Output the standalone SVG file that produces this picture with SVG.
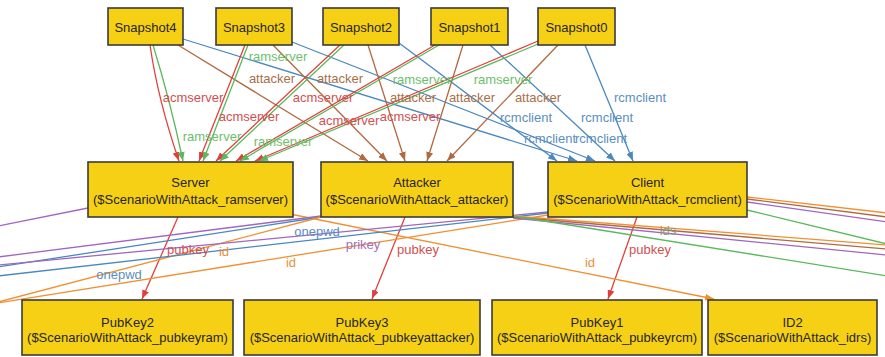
<svg xmlns="http://www.w3.org/2000/svg" width="885" height="357" viewBox="0 0 885 357">
<style>
.n rect{fill:#f6d015;stroke:#3a3a3a;stroke-width:1.6}
.n text{font-family:"Liberation Sans",Arial,sans-serif;font-size:13px;fill:#262626;text-anchor:middle}
.e{fill:none;stroke-width:1.3}
.lb{font-family:"Liberation Sans",Arial,sans-serif;font-size:13px;text-anchor:middle}
.r{stroke:#e0403c}.g{stroke:#5cb85c}.b{stroke:#b06a40}.u{stroke:#4a88c0}.p{stroke:#a066c0}.o{stroke:#f09030}
.tr{fill:#d24f4f}.tg{fill:#6cbf6c}.tb{fill:#a8704a}.tu{fill:#5a8ec0}.tp{fill:#a070c0}.to{fill:#e8913a}.tx{fill:#8a9a80}
</style>
<defs>
<marker id="ar" markerUnits="userSpaceOnUse" markerWidth="9" markerHeight="7" refX="9" refY="3.5" orient="auto"><path d="M0,0 L9,3.5 L0,7 z" fill="#e0403c"/></marker>
<marker id="ag" markerUnits="userSpaceOnUse" markerWidth="9" markerHeight="7" refX="9" refY="3.5" orient="auto"><path d="M0,0 L9,3.5 L0,7 z" fill="#5cb85c"/></marker>
<marker id="ab" markerUnits="userSpaceOnUse" markerWidth="9" markerHeight="7" refX="9" refY="3.5" orient="auto"><path d="M0,0 L9,3.5 L0,7 z" fill="#b06a40"/></marker>
<marker id="au" markerUnits="userSpaceOnUse" markerWidth="9" markerHeight="7" refX="9" refY="3.5" orient="auto"><path d="M0,0 L9,3.5 L0,7 z" fill="#4a88c0"/></marker>
<marker id="ao" markerUnits="userSpaceOnUse" markerWidth="9" markerHeight="7" refX="9" refY="3.5" orient="auto"><path d="M0,0 L9,3.5 L0,7 z" fill="#f09030"/></marker>
</defs>
<rect width="885" height="357" fill="#ffffff"/>
<g id="connectors">
<!-- Snapshot4 -->
<path class="e r" d="M150,45 Q158,100 179,161" marker-end="url(#ar)"/>
<path class="e g" d="M153,45 Q170,100 183,161" marker-end="url(#ag)"/>
<path class="e b" d="M178,45 L368,161" marker-end="url(#ab)"/>
<path class="e u" d="M183,39 L577,161" marker-end="url(#au)"/>
<!-- Snapshot3 -->
<path class="e r" d="M245,45 L199,161" marker-end="url(#ar)"/>
<path class="e g" d="M248,45 L203,161" marker-end="url(#ag)"/>
<path class="e b" d="M273,45 L387,161" marker-end="url(#ab)"/>
<path class="e u" d="M292,42 L595,161" marker-end="url(#au)"/>
<!-- Snapshot2 -->
<path class="e r" d="M340,45 L216,161" marker-end="url(#ar)"/>
<path class="e g" d="M344,45 L220,161" marker-end="url(#ag)"/>
<path class="e b" d="M368,45 L405,161" marker-end="url(#ab)"/>
<path class="e u" d="M399,43 L557,161" marker-end="url(#au)"/>
<!-- Snapshot1 -->
<path class="e r" d="M435,45 L236,161" marker-end="url(#ar)"/>
<path class="e g" d="M439,45 L240,161" marker-end="url(#ag)"/>
<path class="e b" d="M463,45 L427,161" marker-end="url(#ab)"/>
<path class="e u" d="M490,45 L615,161" marker-end="url(#au)"/>
<!-- Snapshot0 -->
<path class="e r" d="M538,41 L255,161" marker-end="url(#ar)"/>
<path class="e g" d="M538,44 L259,161" marker-end="url(#ag)"/>
<path class="e b" d="M558,45 L447,161" marker-end="url(#ab)"/>
<path class="e u" d="M585,45 L633,161" marker-end="url(#au)"/>
<!-- lower edges -->
<path class="e r" d="M178,217 L142,299" marker-end="url(#ar)"/>
<path class="e r" d="M405,217 L372,299" marker-end="url(#ar)"/>
<path class="e r" d="M637,217 L608,299" marker-end="url(#ar)"/>
<path class="e o" d="M290,214 L714,299" marker-end="url(#ao)"/>
<!-- lines to the left -->
<path class="e p" d="M88,208 L-2,226"/>
<path class="e p" d="M-2,257 L321,216"/>
<path class="e u" d="M-2,267 L321,217"/>
<path class="e o" d="M-2,302 L321,217"/>
<path class="e p" d="M-2,265 L548,212"/>
<path class="e u" d="M-2,276 L548,213"/>
<path class="e o" d="M-2,303 L548,215"/>
<!-- lines to the right -->
<path class="e o" d="M747,197 L887,213"/>
<path class="e b" d="M747,199 L887,217"/>
<path class="e p" d="M747,202 L887,222"/>
<path class="e g" d="M747,210 L887,244"/>
<path class="e o" d="M513,216 L887,245"/>
<path class="e b" d="M513,217 L887,249"/>
<path class="e p" d="M513,218 L887,255"/>
<path class="e g" d="M513,216 L887,276"/>
<!-- labels -->
<text class="lb tr" x="193" y="102">acmserver</text>
<text class="lb tr" x="249" y="121">acmserver</text>
<text class="lb tr" x="323" y="102">acmserver</text>
<text class="lb tr" x="349" y="125">acmserver</text>
<text class="lb tr" x="410" y="121">acmserver</text>
<text class="lb tg" x="278" y="61">ramserver</text>
<text class="lb tg" x="212" y="141">ramserver</text>
<text class="lb tg" x="283" y="146">ramserver</text>
<text class="lb tg" x="422" y="84">ramserver</text>
<text class="lb tg" x="503" y="84">ramserver</text>
<text class="lb tb" x="272" y="83">attacker</text>
<text class="lb tb" x="340" y="83">attacker</text>
<text class="lb tb" x="413" y="102">attacker</text>
<text class="lb tb" x="472" y="102">attacker</text>
<text class="lb tb" x="538" y="102">attacker</text>
<text class="lb tu" x="640" y="102">rcmclient</text>
<text class="lb tu" x="526" y="122">rcmclient</text>
<text class="lb tu" x="607" y="122">rcmclient</text>
<text class="lb tu" x="550" y="143">rcmclient</text>
<text class="lb tu" x="601" y="143">rcmclient</text>
<text class="lb tr" x="188" y="254">pubkey</text>
<text class="lb tr" x="418" y="254">pubkey</text>
<text class="lb tr" x="650" y="254">pubkey</text>
<text class="lb to" x="590" y="267">id</text>
<text class="lb to" x="224" y="256">id</text>
<text class="lb to" x="291" y="267">id</text>
<text class="lb tu" x="119" y="279">onepwd</text>
<text class="lb tu" x="317" y="236">onepwd</text>
<text class="lb tp" x="363" y="249">prikey</text>
<text class="lb tx" x="668" y="235">ids</text>
</g>
<g id="Snapshot4" class="n"><rect x="108" y="8" width="75" height="37"/><text x="145.5" y="31.5">Snapshot4</text></g>
<g id="Snapshot3" class="n"><rect x="216" y="8" width="76" height="37"/><text x="254" y="31.5">Snapshot3</text></g>
<g id="Snapshot2" class="n"><rect x="323" y="8" width="76" height="37"/><text x="361" y="31.5">Snapshot2</text></g>
<g id="Snapshot1" class="n"><rect x="431" y="8" width="77" height="37"/><text x="469.5" y="31.5">Snapshot1</text></g>
<g id="Snapshot0" class="n"><rect x="538" y="8" width="77" height="37"/><text x="576.5" y="31.5">Snapshot0</text></g>
<g id="Server" class="n"><rect x="88" y="162" width="205" height="55"/><text x="190.5" y="186.5">Server</text><text x="190.5" y="203.5">($ScenarioWithAttack_ramserver)</text></g>
<g id="Attacker" class="n"><rect x="321" y="162" width="192" height="55"/><text x="417" y="186.5">Attacker</text><text x="417" y="203.5">($ScenarioWithAttack_attacker)</text></g>
<g id="Client" class="n"><rect x="548" y="162" width="199" height="55"/><text x="647.5" y="186.5">Client</text><text x="647.5" y="203.5">($ScenarioWithAttack_rcmclient)</text></g>
<g id="PubKey2" class="n"><rect x="22" y="300" width="211" height="55"/><text x="127.5" y="326.5">PubKey2</text><text x="127.5" y="342">($ScenarioWithAttack_pubkeyram)</text></g>
<g id="PubKey3" class="n"><rect x="244" y="300" width="236" height="55"/><text x="362" y="326.5">PubKey3</text><text x="362" y="342">($ScenarioWithAttack_pubkeyattacker)</text></g>
<g id="PubKey1" class="n"><rect x="492" y="300" width="210" height="55"/><text x="597" y="326.5">PubKey1</text><text x="597" y="342">($ScenarioWithAttack_pubkeyrcm)</text></g>
<g id="ID2" class="n"><rect x="708" y="300" width="169" height="55"/><text x="792.5" y="326.5">ID2</text><text x="792.5" y="342">($ScenarioWithAttack_idrs)</text></g>
</svg>
